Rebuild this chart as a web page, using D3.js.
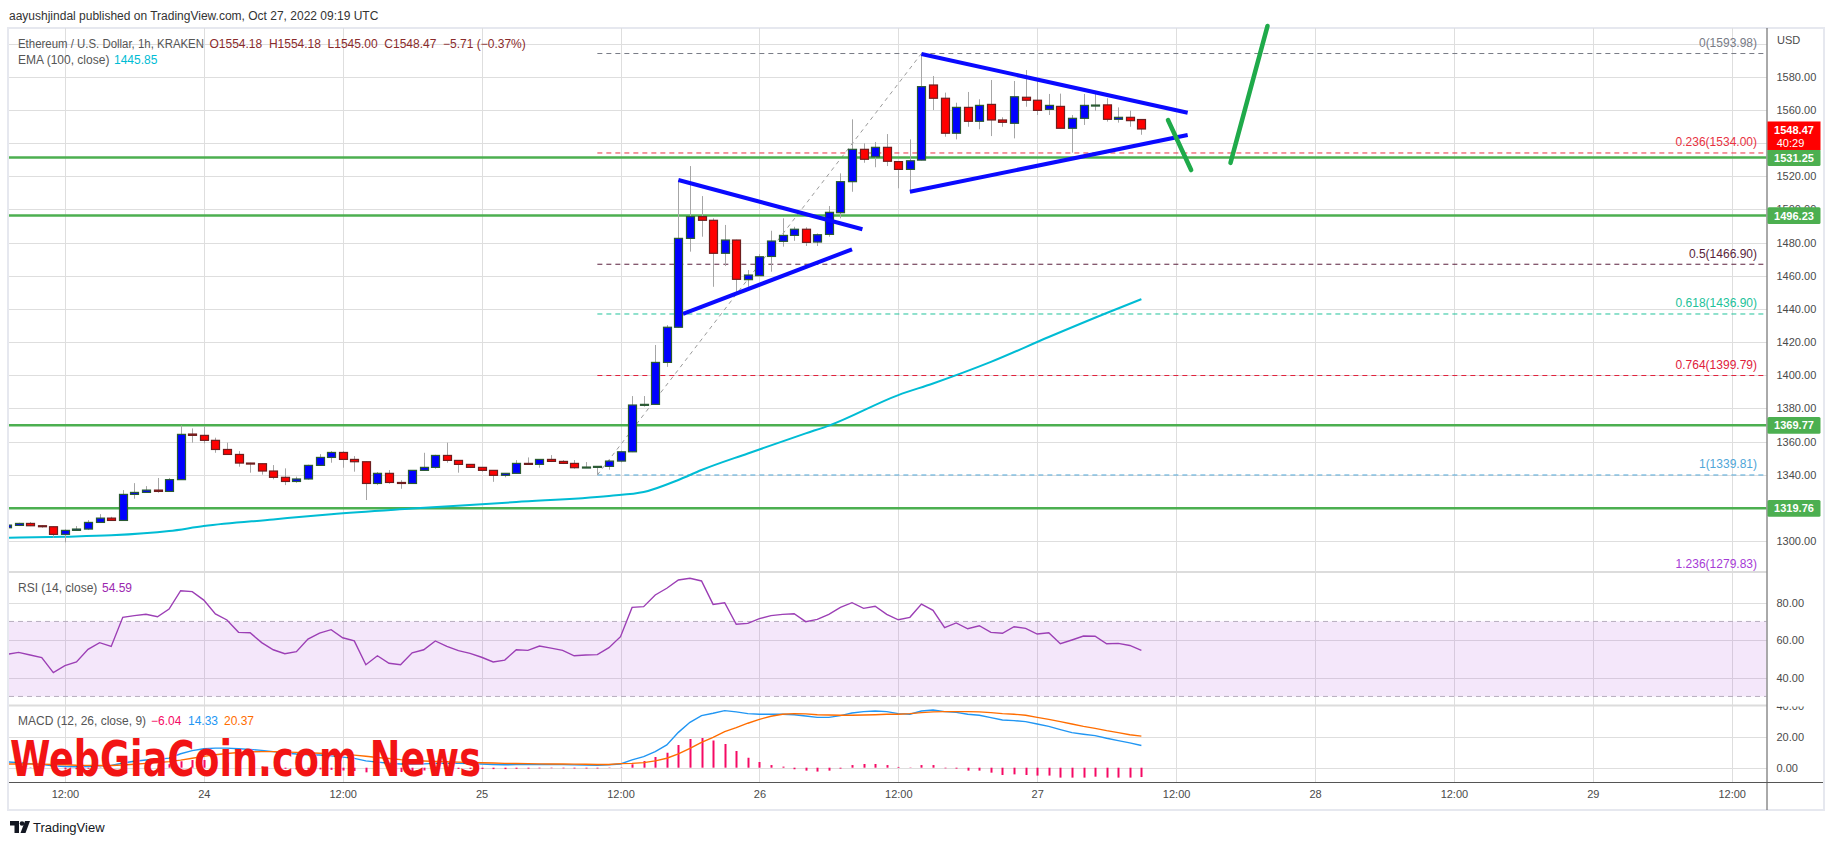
<!DOCTYPE html>
<html>
<head>
<meta charset="utf-8">
<script src="https://cdn.jsdelivr.net/npm/d3@7"></script>
<style>
  body { margin: 0; background: #fff; }
  svg text { font-family: "Liberation Sans", Arial, sans-serif; }
</style>
</head>
<body>
<div id="chart"></div>
<script>
// ---- data (ETH/USD 1h, Kraken) ----
// first visible hourly candle: Oct 23 2022 07:00 UTC
var candleStart = Date.UTC(2022, 9, 23, 7)

var open = [1308.0, 1309.4, 1310.6, 1309.2, 1308.6, 1304.0, 1306.4, 1307.2, 1311.2, 1313.8,
  1312.4, 1328.1, 1329.3, 1330.7, 1329.9, 1337.0, 1364.5, 1363.7, 1360.7, 1355.2,
  1352.2, 1347.0, 1346.6, 1342.2, 1338.4, 1335.9, 1337.4, 1345.6, 1350.4, 1353.4,
  1349.2, 1347.8, 1334.7, 1340.8, 1335.3, 1334.7, 1342.6, 1344.4, 1351.6, 1348.6,
  1346.2, 1344.4, 1342.6, 1339.6, 1340.8, 1346.8, 1346.2, 1349.2, 1348.0, 1346.8,
  1344.2, 1344.6, 1345.0, 1348.2, 1353.8, 1382.0, 1382.4, 1407.7, 1428.9, 1482.5,
  1495.6, 1493.4, 1473.5, 1481.5, 1457.6, 1460.0, 1471.6, 1480.7, 1484.3, 1488.0,
  1480.3, 1484.9, 1498.0, 1516.7, 1536.2, 1531.7, 1537.4, 1528.8, 1524.1, 1529.7,
  1575.0, 1567.0, 1545.9, 1561.5, 1553.1, 1563.3, 1553.9, 1551.9, 1567.6, 1565.8,
  1560.3, 1562.1, 1548.9, 1554.9, 1562.5, 1563.0, 1554.3, 1555.5, 1554.18]
var high = [1309.8, 1311.0, 1311.4, 1309.6, 1308.8, 1307.0, 1309.0, 1312.6, 1316.2, 1314.6,
  1330.7, 1334.9, 1333.1, 1338.0, 1338.0, 1369.7, 1367.9, 1369.3, 1362.3, 1359.3,
  1354.2, 1347.2, 1346.8, 1345.8, 1343.8, 1338.8, 1346.0, 1352.4, 1354.2, 1354.2,
  1351.2, 1348.0, 1341.6, 1342.8, 1336.7, 1342.6, 1353.2, 1352.0, 1359.3, 1348.8,
  1346.4, 1344.6, 1342.8, 1340.8, 1348.8, 1350.4, 1349.4, 1351.8, 1348.8, 1348.8,
  1347.6, 1345.2, 1349.0, 1354.5, 1387.4, 1387.4, 1418.2, 1430.2, 1517.7, 1526.1,
  1508.0, 1494.6, 1490.6, 1481.7, 1463.4, 1473.0, 1487.1, 1494.6, 1489.5, 1489.2,
  1485.5, 1502.0, 1521.7, 1554.3, 1539.8, 1540.6, 1545.4, 1529.0, 1542.2, 1593.98,
  1580.4, 1570.4, 1564.3, 1570.8, 1566.4, 1578.0, 1555.5, 1577.4, 1584.0, 1578.0,
  1569.6, 1569.8, 1556.9, 1569.6, 1569.6, 1567.0, 1561.5, 1559.5, 1554.18]
var low = [1307.6, 1309.0, 1309.0, 1308.0, 1302.0, 1299.2, 1306.2, 1306.6, 1311.0, 1312.2,
  1312.2, 1325.5, 1329.1, 1329.1, 1329.7, 1336.8, 1359.3, 1358.9, 1353.2, 1352.0,
  1344.8, 1341.2, 1340.0, 1337.2, 1333.7, 1335.1, 1337.0, 1345.4, 1347.2, 1344.2,
  1341.8, 1324.7, 1333.7, 1334.5, 1331.5, 1334.5, 1342.4, 1343.6, 1347.2, 1341.2,
  1344.0, 1341.8, 1335.7, 1338.4, 1340.6, 1346.0, 1344.2, 1347.6, 1346.4, 1343.6,
  1344.0, 1339.81, 1343.0, 1347.4, 1353.6, 1381.0, 1382.2, 1405.0, 1428.7, 1474.5,
  1483.5, 1453.3, 1465.8, 1450.3, 1453.3, 1459.8, 1462.4, 1477.5, 1481.0, 1477.9,
  1477.9, 1483.5, 1494.6, 1510.6, 1528.1, 1525.4, 1526.1, 1512.7, 1511.7, 1529.5,
  1559.9, 1543.8, 1542.2, 1549.8, 1548.3, 1544.2, 1549.8, 1542.8, 1561.9, 1556.9,
  1556.9, 1548.9, 1534.2, 1550.9, 1559.5, 1552.9, 1552.3, 1549.8, 1545.00]
var close = [1309.6, 1310.6, 1309.2, 1308.6, 1304.0, 1306.4, 1307.2, 1311.2, 1313.8, 1312.4,
  1328.1, 1329.3, 1330.7, 1329.9, 1337.0, 1364.3, 1363.7, 1360.7, 1355.2, 1352.2,
  1347.0, 1346.6, 1342.2, 1338.4, 1335.9, 1337.4, 1345.6, 1350.4, 1353.4, 1349.2,
  1347.8, 1334.7, 1340.8, 1335.3, 1334.7, 1342.6, 1344.4, 1351.6, 1348.6, 1346.2,
  1344.4, 1342.6, 1339.6, 1340.8, 1346.8, 1346.2, 1349.2, 1348.0, 1346.8, 1344.2,
  1344.6, 1345.0, 1348.2, 1353.8, 1382.0, 1382.4, 1407.7, 1428.9, 1482.5, 1495.6,
  1493.4, 1473.5, 1481.5, 1457.8, 1460.4, 1471.4, 1480.9, 1484.3, 1488.0, 1480.1,
  1484.7, 1498.2, 1516.7, 1536.2, 1530.2, 1537.4, 1529.0, 1524.1, 1529.3, 1574.0,
  1567.0, 1545.9, 1561.5, 1553.1, 1562.7, 1553.9, 1552.5, 1567.9, 1565.8, 1559.7,
  1562.7, 1548.9, 1554.9, 1562.7, 1562.9, 1554.3, 1555.5, 1553.5, 1548.47]

// EMA(100) read at some candles (candle index, value)
var emaIndex = [0, 5, 9, 14, 17, 23, 28, 35, 44, 52, 55, 58, 60, 64, 69, 71, 77, 80, 85, 90, 95, 98]
var emaValue = [1302.0, 1302.6, 1303.4, 1306.0, 1309.0, 1313.0, 1316.2, 1319.6, 1323.5, 1327.2, 1329.5,
  1336.8, 1342.8, 1352.8, 1364.9, 1369.6, 1388.0, 1395.0, 1408.0, 1423.0, 1437.5, 1445.85]

var rsi = [52.5, 53.5, 52.1, 50.7, 42.7, 46.4, 48.4, 55.1, 58.7, 56.7,
  72.2, 73.1, 73.8, 72.5, 76.6, 86.4, 85.9, 81.4, 74.0, 70.8,
  64.2, 64.0, 58.7, 54.9, 52.8, 53.9, 60.6, 63.8, 65.6, 61.3,
  59.6, 46.9, 51.7, 47.7, 46.9, 53.3, 54.9, 59.6, 56.7, 54.4,
  53.0, 50.9, 48.4, 49.4, 54.9, 54.6, 56.9, 55.8, 54.6, 51.7,
  52.1, 52.3, 56.0, 61.9, 77.5, 77.9, 84.1, 87.7, 92.1, 93.0,
  91.6, 79.1, 80.0, 68.5, 69.0, 71.5, 73.1, 73.8, 74.1, 69.9,
  71.1, 73.8, 77.5, 80.0, 77.0, 78.1, 73.8, 70.9, 72.2, 79.3,
  75.9, 66.7, 69.2, 66.1, 67.7, 64.2, 63.7, 67.2, 66.3, 63.3,
  64.0, 58.1, 60.1, 62.2, 62.1, 58.1, 58.3, 57.2, 54.59]

var macd = [3.8, 3.2, 2.6, 2.0, 1.2, 0.8, 0.6, 0.8, 1.2, 1.4,
  3.0, 4.2, 5.0, 5.4, 6.2, 9.0, 11.0, 12.2, 12.6, 12.6,
  12.2, 11.8, 11.2, 10.4, 9.5, 8.8, 8.4, 8.2, 7.6, 6.8,
  6.0, 4.4, 3.6, 2.9, 2.4, 2.4, 2.5, 2.8, 2.9, 2.8,
  2.6, 2.4, 2.1, 1.9, 2.0, 2.0, 2.1, 2.1, 2.0, 1.8,
  1.7, 1.6, 1.9, 2.4, 5.0, 7.1, 10.4, 14.7, 22.8, 29.3,
  33.6, 35.1, 36.8, 36.0, 34.9, 34.5, 34.5, 34.5, 34.2, 33.4,
  32.5, 32.5, 33.6, 35.3, 36.2, 36.6, 36.2, 34.9, 34.5, 36.6,
  37.2, 36.2, 35.7, 34.5, 33.8, 32.3, 30.8, 30.4, 29.7, 28.2,
  26.7, 24.6, 22.6, 21.6, 20.7, 19.0, 17.5, 16.0, 14.33]
var signal = [2.4, 2.4, 2.4, 2.3, 2.1, 1.9, 1.6, 1.5, 1.4, 1.4,
  1.7, 2.2, 2.8, 3.3, 3.9, 4.9, 6.1, 7.3, 8.4, 9.2,
  9.8, 10.2, 10.4, 10.4, 10.2, 9.9, 9.6, 9.3, 9.0, 8.6,
  8.1, 7.4, 6.6, 5.9, 5.2, 4.7, 4.3, 4.0, 3.8, 3.6,
  3.4, 3.2, 3.0, 2.8, 2.7, 2.6, 2.5, 2.4, 2.4, 2.3,
  2.2, 2.1, 2.1, 2.6, 2.8, 3.3, 4.4, 6.1, 8.9, 12.5,
  16.4, 19.6, 23.3, 25.9, 28.7, 31.2, 33.2, 34.5, 34.9, 34.7,
  34.2, 34.0, 33.8, 33.8, 34.0, 34.2, 34.5, 34.5, 34.9, 35.5,
  36.0, 36.2, 36.2, 36.2, 36.0, 35.5, 34.9, 34.5, 33.8, 32.5,
  31.2, 29.7, 28.2, 26.7, 25.4, 23.9, 22.6, 21.3, 20.37]
var hist = [1.4, 0.8, 0.2, -0.3, -0.9, -1.1, -1.0, -0.7, -0.2, 0.0,
  1.3, 2.0, 2.2, 2.1, 2.3, 4.1, 4.9, 4.9, 4.2, 3.4,
  2.4, 1.6, 0.8, 0.0, -0.7, -1.1, -1.2, -1.1, -1.4, -1.8,
  -2.1, -3.0, -3.0, -3.0, -2.8, -2.3, -1.8, -1.2, -0.9, -0.8,
  -0.8, -0.8, -0.9, -0.9, -0.7, -0.6, -0.4, -0.3, -0.4, -0.5,
  -0.5, -0.5, -0.2, -0.2, 2.2, 4.3, 6.9, 9.7, 14.7, 18.5,
  19.2, 17.5, 15.3, 10.8, 6.5, 3.7, 1.7, 0.7, -1.0, -1.9,
  -2.5, -1.9, -0.6, 1.7, 2.4, 2.4, 1.7, 0.5, -0.2, 1.7,
  1.7, -0.4, -0.6, -1.9, -1.9, -3.2, -4.7, -4.3, -4.7, -5.1,
  -5.1, -6.4, -6.4, -6.4, -5.8, -6.4, -6.4, -6.4, -6.04]

// horizontal support / resistance levels (green)
var levels = [1531.25, 1496.23, 1369.77, 1319.76]

// fibonacci retracement
var fibRatio = ["0", "0.236", "0.5", "0.618", "0.764", "1", "1.236"]
var fibPrice = [1593.98, 1534.00, 1466.90, 1436.90, 1399.79, 1339.81, 1279.83]
var fibColor = ["#787b86", "#e8323f", "#5a1f3c", "#22c29a", "#e0213b", "#4fa6d8", "#a63cd6"]
var fibFrom = ["2022-10-25T10:00Z", 1339.81]
var fibTo = ["2022-10-26T14:00Z", 1593.98]

// hand drawn trend lines [time, price] -> [time, price]
var blueLines = [
  [["2022-10-25T17:00Z", 1517.7], ["2022-10-26T08:54Z", 1488.0]],
  [["2022-10-25T17:24Z", 1436.9], ["2022-10-26T08:00Z", 1475.9]],
  [["2022-10-26T14:00Z", 1593.7], ["2022-10-27T13:00Z", 1558.3]],
  [["2022-10-26T13:00Z", 1510.6], ["2022-10-27T13:00Z", 1544.8]]
]
var greenLines = [
  [["2022-10-27T11:18Z", 1553.9], ["2022-10-27T13:18Z", 1523.7]],
  [["2022-10-27T16:42Z", 1528.0], ["2022-10-27T19:54Z", 1610.6]]
]

// ---- layout ----
var width = 1834, height = 845
var chartLeft = 9, chartRight = 1766.5
var mainTop = 28, mainBottom = 571.5
var rsiTop = 572.5, rsiBottom = 705
var macdTop = 706.5, macdBottom = 782
var axisBottom = 810

var svg = d3.select("#chart").append("svg")
  .attr("width", width)
  .attr("height", height)

// scales
var x = d3.scaleUtc()
  .domain([new Date(Date.UTC(2022, 9, 25, 12)), new Date(Date.UTC(2022, 9, 26, 0))])
  .range([620.5, 759.4])
var y = d3.scaleLinear().domain([1300, 1580]).range([541, 76.7])
var yRsi = d3.scaleLinear().domain([40, 80]).range([677.7, 602.7])
var yMacd = d3.scaleLinear().domain([0, 20]).range([767.7, 736.7])

function t(i) { return new Date(candleStart + i * 3600000) }
var candles = open.map(function(o, i) {
  return { time: t(i), o: o, h: high[i], l: low[i], c: close[i] }
})
var last = close[close.length - 1]

// clip paths
var defs = svg.append("defs")
function clip(id, x0, y0, x1, y1) {
  defs.append("clipPath").attr("id", id).append("rect")
    .attr("x", x0).attr("y", y0).attr("width", x1 - x0).attr("height", y1 - y0)
}
clip("clipMain", chartLeft, mainTop, chartRight, mainBottom)
clip("clipRsi", chartLeft, rsiTop, chartRight, rsiBottom)
clip("clipMacd", chartLeft, macdTop, chartRight, macdBottom)
clip("clipMacdAxis", chartRight, macdTop, width, macdBottom)

// outer frame
svg.append("rect")
  .attr("x", 8).attr("y", 28).attr("width", 1816).attr("height", axisBottom - 28)
  .attr("fill", "none").attr("stroke", "#e6e8ef").attr("stroke-width", 2)

// header
svg.append("text")
  .attr("x", 9).attr("y", 19.5)
  .attr("font-size", 12).attr("fill", "#333")
  .text("aayushjindal published on TradingView.com, Oct 27, 2022 09:19 UTC")

// ---- grid ----
var timeTicks = d3.utcHour.every(12).range(x.invert(chartLeft), x.invert(chartRight))
var grid = svg.append("g").attr("stroke", "#dedede").attr("stroke-width", 1)
grid.selectAll(".vgrid").data(timeTicks).enter().append("line")
  .attr("x1", function(d) { return Math.round(x(d)) + 0.5 })
  .attr("x2", function(d) { return Math.round(x(d)) + 0.5 })
  .attr("y1", mainTop).attr("y2", macdBottom)
grid.selectAll(".pgrid").data(d3.range(1300, 1601, 20)).enter().append("line")
  .attr("x1", chartLeft).attr("x2", chartRight)
  .attr("y1", function(d) { return Math.round(y(d)) + 0.5 })
  .attr("y2", function(d) { return Math.round(y(d)) + 0.5 })
grid.selectAll(".rgrid").data([40, 60, 80]).enter().append("line")
  .attr("x1", chartLeft).attr("x2", chartRight)
  .attr("y1", function(d) { return Math.round(yRsi(d)) + 0.5 })
  .attr("y2", function(d) { return Math.round(yRsi(d)) + 0.5 })
grid.selectAll(".mgrid").data([0, 20]).enter().append("line")
  .attr("x1", chartLeft).attr("x2", chartRight)
  .attr("y1", function(d) { return Math.round(yMacd(d)) + 0.5 })
  .attr("y2", function(d) { return Math.round(yMacd(d)) + 0.5 })

// pane separators
svg.selectAll(".sep").data([mainBottom + 0.5, rsiBottom + 0.5]).enter().append("line")
  .attr("x1", chartLeft).attr("x2", chartRight)
  .attr("y1", function(d) { return d }).attr("y2", function(d) { return d })
  .attr("stroke", "#dcdcdc").attr("stroke-width", 2)

// ---- main pane ----
var main = svg.append("g").attr("clip-path", "url(#clipMain)")

// fib levels
var fibStartX = x(new Date(fibFrom[0]))
main.selectAll(".fib").data(fibPrice).enter().append("line")
  .attr("x1", fibStartX).attr("x2", chartRight)
  .attr("y1", function(d) { return y(d) }).attr("y2", function(d) { return y(d) })
  .attr("stroke", function(d, i) { return fibColor[i] })
  .attr("stroke-width", 1).attr("stroke-dasharray", "5,4")
main.append("line")
  .attr("x1", x(new Date(fibFrom[0]))).attr("y1", y(fibFrom[1]))
  .attr("x2", x(new Date(fibTo[0]))).attr("y2", y(fibTo[1]))
  .attr("stroke", "#9a9a9a").attr("stroke-width", 1).attr("stroke-dasharray", "4,4")

// green levels
main.selectAll(".lvl").data(levels).enter().append("line")
  .attr("x1", chartLeft).attr("x2", chartRight)
  .attr("y1", function(d) { return y(d) }).attr("y2", function(d) { return y(d) })
  .attr("stroke", "#4caf50").attr("stroke-width", 2.5)

// EMA line
var emaLine = d3.line()
  .x(function(d, i) { return x(t(emaIndex[i])) })
  .y(function(d) { return y(d) })
  .curve(d3.curveMonotoneX)
main.append("path")
  .datum(emaValue)
  .attr("d", emaLine)
  .attr("fill", "none").attr("stroke", "#00bcd4").attr("stroke-width", 2)

// candles
var bw = 8
var cg = main.selectAll(".candle").data(candles).enter().append("g")
cg.append("line")
  .attr("x1", function(d) { return Math.round(x(d.time)) + 0.5 })
  .attr("x2", function(d) { return Math.round(x(d.time)) + 0.5 })
  .attr("y1", function(d) { return y(d.h) }).attr("y2", function(d) { return y(d.l) })
  .attr("stroke", "#a6a6a6").attr("stroke-width", 1)
cg.append("rect")
  .attr("x", function(d) { return Math.round(x(d.time)) + 0.5 - bw / 2 })
  .attr("width", bw)
  .attr("y", function(d) { return y(Math.max(d.o, d.c)) })
  .attr("height", function(d) { return Math.max(1, Math.abs(y(d.o) - y(d.c))) })
  .attr("fill", function(d) { return d.c >= d.o ? "#0000ff" : "#ff0000" })
  .attr("stroke", function(d) { return d.c >= d.o ? "#2a5a32" : "#6e1e1e" })
  .attr("stroke-width", 1.2)

// drawn trend lines
svg.selectAll(".blue").data(blueLines).enter().append("line")
  .attr("x1", function(d) { return x(new Date(d[0][0])) }).attr("y1", function(d) { return y(d[0][1]) })
  .attr("x2", function(d) { return x(new Date(d[1][0])) }).attr("y2", function(d) { return y(d[1][1]) })
  .attr("stroke", "#0a0aff").attr("stroke-width", 4)
svg.selectAll(".green").data(greenLines).enter().append("line")
  .attr("x1", function(d) { return x(new Date(d[0][0])) }).attr("y1", function(d) { return y(d[0][1]) })
  .attr("x2", function(d) { return x(new Date(d[1][0])) }).attr("y2", function(d) { return y(d[1][1]) })
  .attr("stroke", "#1faa4a").attr("stroke-width", 4.5).attr("stroke-linecap", "round")

// fib labels
svg.selectAll(".fibLabel").data(fibPrice).enter().append("text")
  .attr("x", 1757).attr("y", function(d) { return Math.min(y(d), 574) - 6.5 })
  .attr("text-anchor", "end").attr("font-size", 12)
  .attr("fill", function(d, i) { return fibColor[i] })
  .text(function(d, i) { return fibRatio[i] + "(" + d.toFixed(2) + ")" })

// legend
var leg = svg.append("g").attr("font-size", 12)
leg.append("text").attr("x", 18).attr("y", 47.5).attr("fill", "#555")
  .attr("textLength", 186).attr("lengthAdjust", "spacingAndGlyphs")
  .text("Ethereum / U.S. Dollar, 1h, KRAKEN")
leg.append("text").attr("x", 209.5).attr("y", 47.5).attr("fill", "#8a2b2b")
  .style("white-space", "pre")
  .text("O1554.18  H1554.18  L1545.00  C1548.47  \u22125.71 (\u22120.37%)")
leg.append("text").attr("x", 18).attr("y", 63.5).attr("fill", "#555").text("EMA (100, close)")
leg.append("text").attr("x", 114).attr("y", 63.5).attr("fill", "#00bcd4").text("1445.85")

// ---- RSI pane ----
var rsiG = svg.append("g").attr("clip-path", "url(#clipRsi)")
rsiG.append("rect")
  .attr("x", chartLeft).attr("width", chartRight - chartLeft)
  .attr("y", yRsi(70)).attr("height", yRsi(30) - yRsi(70))
  .attr("fill", "rgba(175,82,222,0.14)")
rsiG.selectAll(".band").data([70, 30]).enter().append("line")
  .attr("x1", chartLeft).attr("x2", chartRight)
  .attr("y1", function(d) { return yRsi(d) }).attr("y2", function(d) { return yRsi(d) })
  .attr("stroke", "#b7aebf").attr("stroke-dasharray", "5,4")
var rsiLine = d3.line()
  .x(function(d, i) { return x(t(i)) })
  .y(function(d) { return yRsi(d) })
rsiG.append("path").datum(rsi).attr("d", rsiLine)
  .attr("fill", "none").attr("stroke", "#9c3fb5").attr("stroke-width", 1.4)
svg.append("text").attr("x", 18).attr("y", 592).attr("font-size", 12).attr("fill", "#555").text("RSI (14, close)")
svg.append("text").attr("x", 102).attr("y", 592).attr("font-size", 12).attr("fill", "#9c27b0").text("54.59")

// ---- MACD pane ----
var macdG = svg.append("g").attr("clip-path", "url(#clipMacd)")
macdG.selectAll(".hist").data(hist).enter().append("line")
  .attr("x1", function(d, i) { return Math.round(x(t(i))) + 0.5 })
  .attr("x2", function(d, i) { return Math.round(x(t(i))) + 0.5 })
  .attr("y1", yMacd(0))
  .attr("y2", function(d) { return yMacd(d) })
  .attr("stroke", "#f50a64").attr("stroke-width", 2)
var macdLine = d3.line()
  .x(function(d, i) { return x(t(i)) })
  .y(function(d) { return yMacd(d) })
macdG.append("path").datum(macd).attr("d", macdLine)
  .attr("fill", "none").attr("stroke", "#2196f3").attr("stroke-width", 1.4)
macdG.append("path").datum(signal).attr("d", macdLine)
  .attr("fill", "none").attr("stroke", "#ff6d00").attr("stroke-width", 1.4)
var ml = svg.append("g").attr("font-size", 12)
ml.append("text").attr("x", 18).attr("y", 725).attr("fill", "#555").text("MACD (12, 26, close, 9)")
ml.append("text").attr("x", 151).attr("y", 725).attr("fill", "#f50a64").text("\u22126.04")
ml.append("text").attr("x", 188).attr("y", 725).attr("fill", "#2196f3").text("14.33")
ml.append("text").attr("x", 224).attr("y", 725).attr("fill", "#ff6d00").text("20.37")

// watermark
svg.append("text")
  .attr("x", 10).attr("y", 776)
  .attr("textLength", 471).attr("lengthAdjust", "spacingAndGlyphs")
  .style("font-family", "'Liberation Sans Narrow', 'DejaVu Sans Condensed', 'Liberation Sans', sans-serif")
  .attr("font-weight", "bold").attr("font-size", 50)
  .attr("fill", "#f21414")
  .text("WebGiaCoin.com News")

// ---- axes ----
svg.append("line").attr("x1", chartRight + 0.5).attr("x2", chartRight + 0.5)
  .attr("y1", mainTop).attr("y2", axisBottom).attr("stroke", "#555")
svg.append("line").attr("x1", chartLeft).attr("x2", 1823)
  .attr("y1", macdBottom + 0.5).attr("y2", macdBottom + 0.5).attr("stroke", "#555")

function styleAxis(g) {
  g.select(".domain").remove()
  g.selectAll("text").attr("fill", "#4a4a4a").attr("font-size", 11)
    .style("font-family", "'Liberation Sans', Arial, sans-serif")
}

// price ticks; the one fully under the last-price box is not shown
var priceTicks = d3.range(1300, 1581, 20).filter(function(d) {
  return !(y(d) > y(last) - 7.5 && y(d) < y(last) + 21)
})
svg.append("g")
  .attr("transform", "translate(" + chartRight + ",0)")
  .call(d3.axisRight(y).tickValues(priceTicks).tickFormat(d3.format(".2f")).tickSize(0).tickPadding(10))
  .call(styleAxis)
svg.append("g")
  .attr("transform", "translate(" + chartRight + ",0)")
  .call(d3.axisRight(yRsi).tickValues([40, 60, 80]).tickFormat(d3.format(".2f")).tickSize(0).tickPadding(10))
  .call(styleAxis)
svg.append("g").attr("clip-path", "url(#clipMacdAxis)")
  .append("g")
  .attr("transform", "translate(" + chartRight + ",0)")
  .call(d3.axisRight(yMacd).tickValues([0, 20, 40]).tickFormat(d3.format(".2f")).tickSize(0).tickPadding(10))
  .call(styleAxis)
svg.append("text").attr("x", 1777).attr("y", 44).attr("font-size", 11).attr("fill", "#4a4a4a").text("USD")

svg.append("g")
  .attr("transform", "translate(0," + macdBottom + ")")
  .call(d3.axisBottom(x).tickValues(timeTicks).tickSize(0).tickPadding(8)
    .tickFormat(function(d) { return d.getUTCHours() === 0 ? String(d.getUTCDate()) : "12:00" }))
  .call(styleAxis)

// price labels on the axis
var lab = svg.selectAll(".lvlLabel").data(levels).enter().append("g")
lab.append("rect")
  .attr("x", chartRight + 1).attr("width", 53)
  .attr("y", function(d) { return y(d) - 8.3 }).attr("height", 16.7)
  .attr("rx", 1.5).attr("fill", "#4caf50")
lab.append("text")
  .attr("x", chartRight + 27.5).attr("y", function(d) { return y(d) + 4 })
  .attr("text-anchor", "middle").attr("font-size", 11).attr("font-weight", "bold").attr("fill", "#fff")
  .text(function(d) { return d.toFixed(2) })

svg.append("rect")
  .attr("x", chartRight + 1).attr("width", 53)
  .attr("y", y(last) - 7.5).attr("height", 28.5)
  .attr("fill", "#ff0000")
svg.append("text")
  .attr("x", chartRight + 27.5).attr("y", y(last) + 5.5)
  .attr("text-anchor", "middle").attr("font-size", 11).attr("font-weight", "bold").attr("fill", "#fff")
  .text(last.toFixed(2))
svg.append("text")
  .attr("x", chartRight + 24).attr("y", y(last) + 18.5)
  .attr("text-anchor", "middle").attr("font-size", 11).attr("fill", "#fff")
  .text("40:29")

// TradingView logo
var logo = svg.append("g").attr("fill", "#131722")
logo.append("path").attr("d", "M10,821 h9 v12 h-4.5 v-7.5 h-4.5 z")
logo.append("circle").attr("cx", 22).attr("cy", 823.5).attr("r", 2.3)
logo.append("path").attr("d", "M25,821 h5 l-4.5,12 h-5 z")
svg.append("text").attr("x", 33).attr("y", 832).attr("font-size", 13).attr("fill", "#131722").text("TradingView")
</script>
</body>
</html>
